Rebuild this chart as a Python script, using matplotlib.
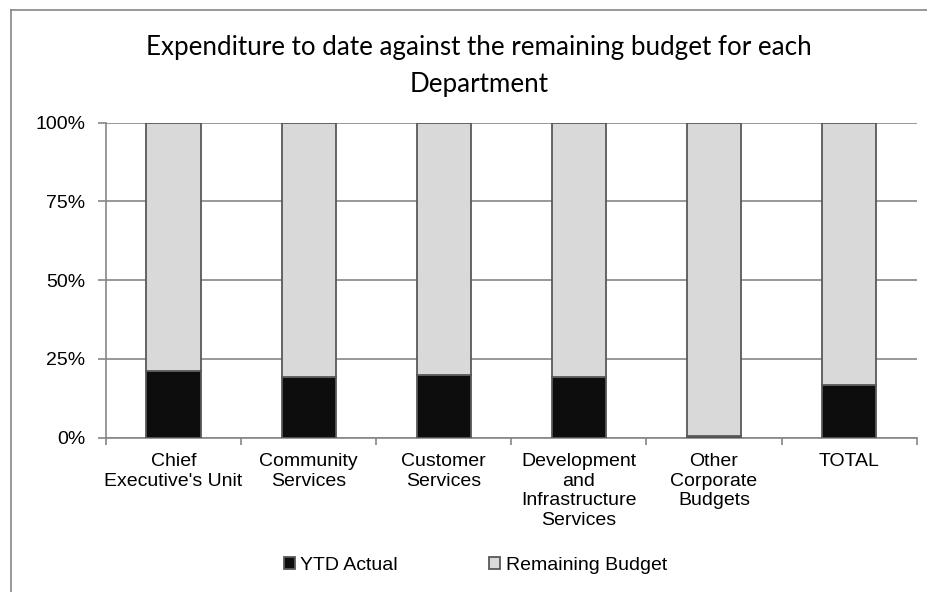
import numpy as np
import matplotlib
matplotlib.use("Agg")
import matplotlib.pyplot as plt
from matplotlib.lines import Line2D
from matplotlib.ticker import FixedLocator, PercentFormatter

departments = ["Chief\nExecutive's Unit", "Community\nServices", "Customer\nServices",
               "Development\nand\nInfrastructure\nServices", "Other\nCorporate\nBudgets", "TOTAL"]

# share of each department's budget, in percent
ytd_actual = [21.1, 19.4, 20.0, 19.4, 0.6, 16.8]
remaining_budget = [78.9, 80.6, 80.0, 80.6, 99.4, 83.2]

plt.rcParams['font.family'] = ['Liberation Sans', 'DejaVu Sans']

fig = plt.figure(figsize=(9.27, 5.92), dpi=100)
ax = fig.add_axes([0.1143, 0.2606, 0.8746, 0.5321])

x = np.arange(len(departments))
edge = '#595959'
ax.bar(x, ytd_actual, width=0.4, color='#0d0d0d', edgecolor=edge, linewidth=1.3,
       label='YTD Actual', zorder=3)
ax.bar(x, remaining_budget, width=0.4, bottom=ytd_actual, color='#d9d9d9',
       edgecolor=edge, linewidth=1.3, label='Remaining Budget', zorder=3)

ax.set_xlim(-0.5, len(departments) - 0.5)
ax.set_ylim(0, 100)
ax.set_yticks([0, 25, 50, 75, 100])
ax.yaxis.set_major_formatter(PercentFormatter(decimals=0))
ax.grid(axis='y', color='#868686', linewidth=1.2, zorder=0)

ax.set_xticks(x)
ax.set_xticklabels(departments, fontsize=14, linespacing=1.2, va='top')
ax.xaxis.set_minor_locator(FixedLocator(np.arange(-0.5, len(departments), 1.0)))
ax.tick_params(axis='x', which='major', length=0, pad=11)
ax.tick_params(axis='x', which='minor', length=5, color='#868686', width=1.2)
ax.tick_params(axis='y', length=6, color='#868686', width=1.2, labelsize=14, pad=9)

for side in ['top', 'right']:
    ax.spines[side].set_visible(False)
for side in ['left', 'bottom']:
    ax.spines[side].set_color('#868686')
    ax.spines[side].set_linewidth(1.2)

fig.text(0.517, 0.889, "Expenditure to date against the remaining budget for each\nDepartment",
         ha='center', va='center', fontsize=18.7, linespacing=1.6,
         family=['Lato', 'Liberation Sans'])

ax.legend(loc='center', bbox_to_anchor=(0.513, 0.045), bbox_transform=fig.transFigure,
          ncol=2, frameon=False, fontsize=14, handlelength=0.55, handleheight=0.55,
          handletextpad=0.3, columnspacing=4.7)

# chart area border
fig.add_artist(Line2D([11 / 927, 11 / 927], [0, 1 - 10 / 592], transform=fig.transFigure,
                      color='#868686', linewidth=1.2))
fig.add_artist(Line2D([11 / 927, 1], [1 - 10 / 592, 1 - 10 / 592], transform=fig.transFigure,
                      color='#868686', linewidth=1.2))

fig.savefig('out.png', dpi=100)
